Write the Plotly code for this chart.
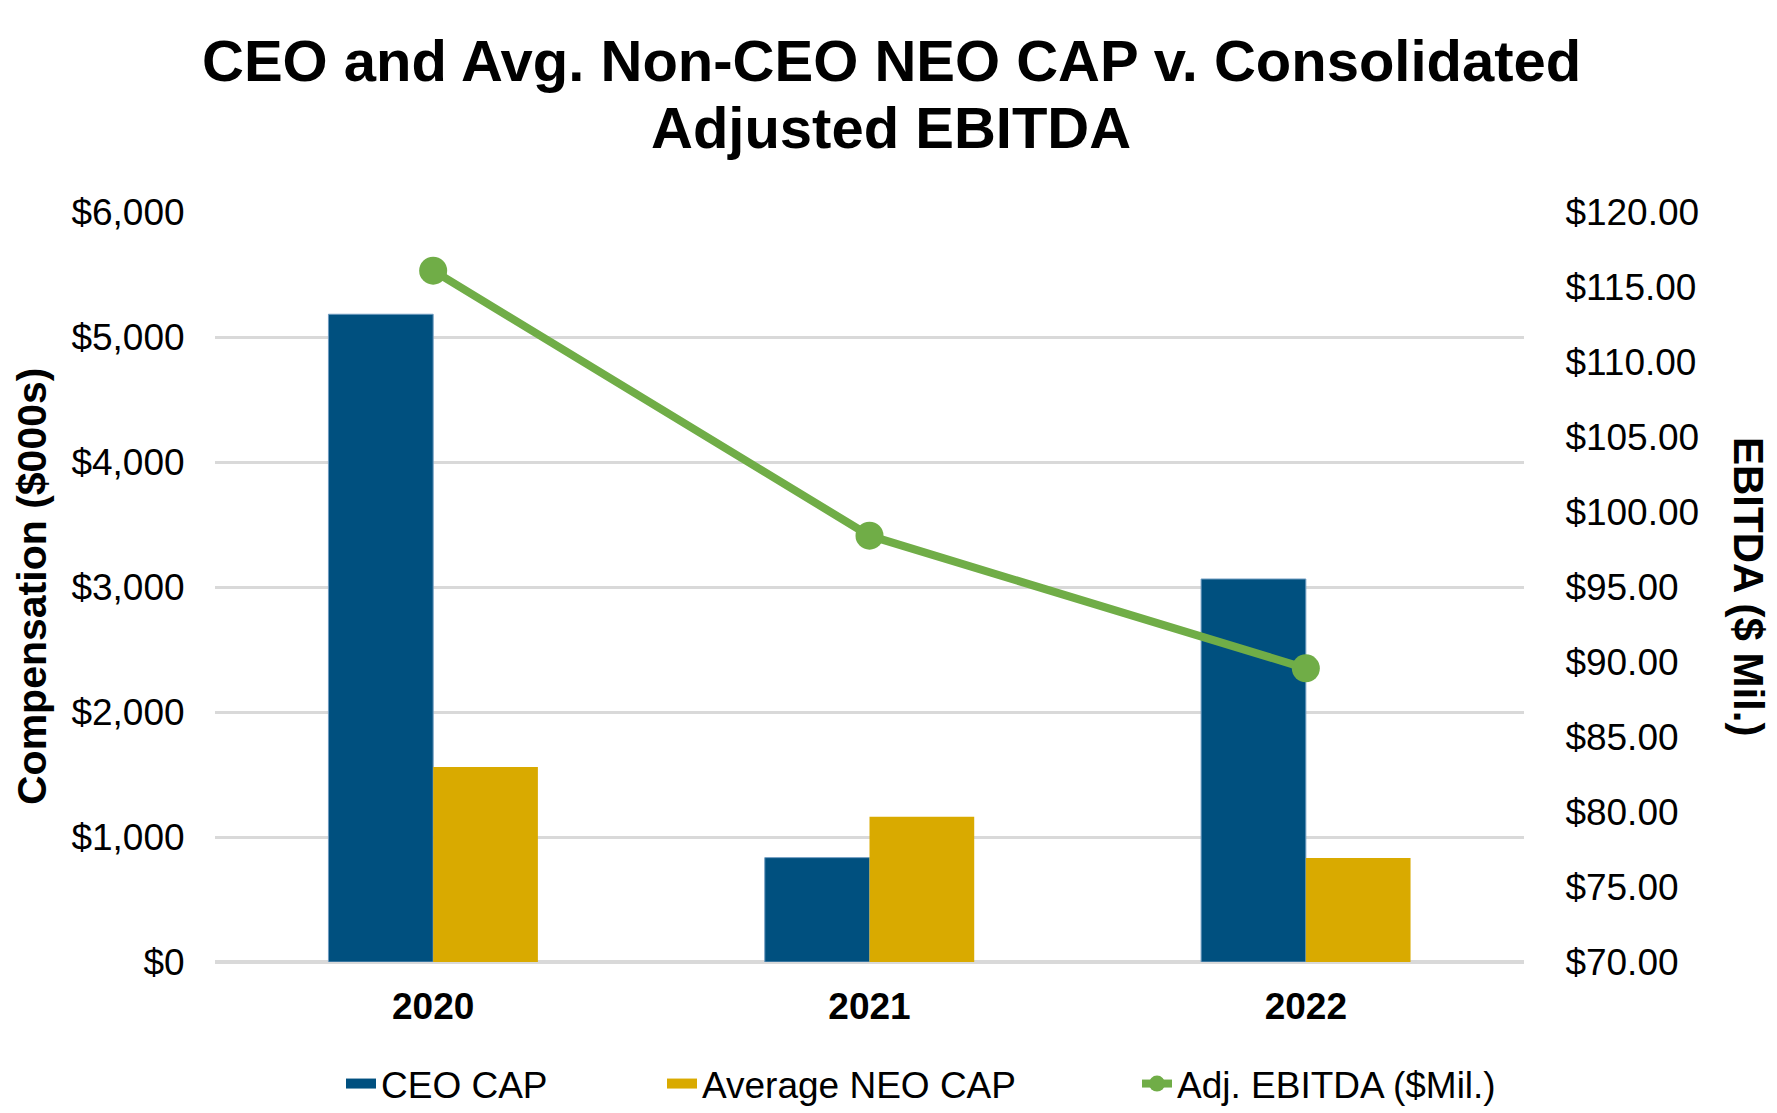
import plotly.graph_objects as go

years = ["2020", "2021", "2022"]
ceo_cap = [5182, 835, 3064]
avg_neo_cap = [1561, 1162, 832]
adj_ebitda = [116.09, 98.42, 89.58]

left_ticks = [0, 1000, 2000, 3000, 4000, 5000, 6000]
right_ticks = [70, 75, 80, 85, 90, 95, 100, 105, 110, 115, 120]
left_ticktext = ["$" + format(v, ",") for v in left_ticks]
right_ticktext = ["$%.2f" % v for v in right_ticks]

title_line1 = "CEO and Avg. Non-CEO NEO CAP v. Consolidated"
title_line2 = "Adjusted EBITDA"

NAVY = "#00507F"
GOLD = "#D9AA00"
GREEN = "#70AD47"
FONT = "Liberation Sans, Arial, sans-serif"

W, H = 1777, 1113
L, R, T, B = 207, 261, 204, 159
pw, ph = W - L - R, H - T - B


def py(p):
    return (H - B - p) / ph


def px(p):
    return (p - L) / pw


fig = go.Figure()
fig.add_trace(go.Bar(x=years, y=ceo_cap, name="CEO CAP", showlegend=False,
                     marker=dict(color=NAVY, line=dict(width=1, color="#6F9BC0"))))
fig.add_trace(go.Bar(x=years, y=avg_neo_cap, name="Average NEO CAP", showlegend=False,
                     marker=dict(color=GOLD, line=dict(width=0))))
fig.add_trace(go.Scatter(x=years, y=adj_ebitda, name="Adj. EBITDA ($Mil.)", yaxis="y2",
                         mode="lines+markers", line=dict(color=GREEN, width=8),
                         marker=dict(color=GREEN, size=28), legend="legend3",
                         showlegend=True))
# legend entries for the bar series (wide swatches like the reference); no visible marks
fig.add_trace(go.Scatter(x=[years[0]], y=[None], name="CEO CAP", mode="lines",
                         line=dict(color=NAVY, width=22), legend="legend", showlegend=True))
fig.add_trace(go.Scatter(x=[years[0]], y=[None], name="Average NEO CAP", mode="lines",
                         line=dict(color=GOLD, width=22), legend="legend2", showlegend=True))

leg_common = dict(orientation="h", xref="container", xanchor="left",
                  y=py(1076), yanchor="middle",
                  font=dict(size=37, family=FONT, color="black"),
                  bgcolor="rgba(0,0,0,0)", borderwidth=0, visible=True)

fig.update_layout(
    width=W, height=H,
    paper_bgcolor="white", plot_bgcolor="white",
    margin=dict(l=L, r=R, t=T, b=B, autoexpand=False),
    font=dict(family=FONT, color="black", size=37),
    barmode="group", bargap=0.52, bargroupgap=0,
    showlegend=True,
    xaxis=dict(type="category", showgrid=False, showline=False, zeroline=False,
               ticks="outside", ticklen=12, tickcolor="rgba(0,0,0,0)",
               tickfont=dict(size=37, family=FONT, color="black"),
               tickvals=years, ticktext=["<b>%s</b>" % y for y in years]),
    yaxis=dict(range=[0, 6000], tickvals=left_ticks, ticktext=left_ticktext,
               showgrid=True, gridcolor="#D9D9D9", gridwidth=3,
               zeroline=True, zerolinecolor="#D9D9D9", zerolinewidth=4,
               showline=False, ticks="outside", ticklen=22, tickcolor="rgba(0,0,0,0)",
               tickfont=dict(size=37, family=FONT, color="black")),
    yaxis2=dict(range=[70, 120], tickvals=right_ticks, ticktext=right_ticktext,
                overlaying="y", side="right", showgrid=False, zeroline=False, showline=False,
                ticks="outside", ticklen=33, tickcolor="rgba(0,0,0,0)",
                tickfont=dict(size=37, family=FONT, color="black")),
    legend=dict(x=(373 - 40) / W, **leg_common),
    legend2=dict(x=(694 - 40) / W, **leg_common),
    legend3=dict(x=(1169 - 40) / W, **leg_common),
    annotations=[
        dict(text="<b>%s</b>" % title_line1, xref="paper", yref="paper",
             x=px(883), y=py(53), xanchor="center", yanchor="middle", showarrow=False,
             font=dict(size=58, family=FONT, color="black")),
        dict(text="<b>%s</b>" % title_line2, xref="paper", yref="paper",
             x=px(883), y=py(119), xanchor="center", yanchor="middle", showarrow=False,
             font=dict(size=58, family=FONT, color="black")),
        dict(text="<b>Compensation ($000s)</b>", textangle=-90, xref="paper", yref="paper",
             x=px(24), y=0.5, xanchor="center", yanchor="middle", showarrow=False,
             font=dict(size=41, family=FONT, color="black")),
        dict(text="<b>EBITDA ($ Mil.)</b>", textangle=90, xref="paper", yref="paper",
             x=px(1741), y=0.5, xanchor="center", yanchor="middle", showarrow=False,
             font=dict(size=42, family=FONT, color="black")),
    ],
)

fig.write_html("out.html")
